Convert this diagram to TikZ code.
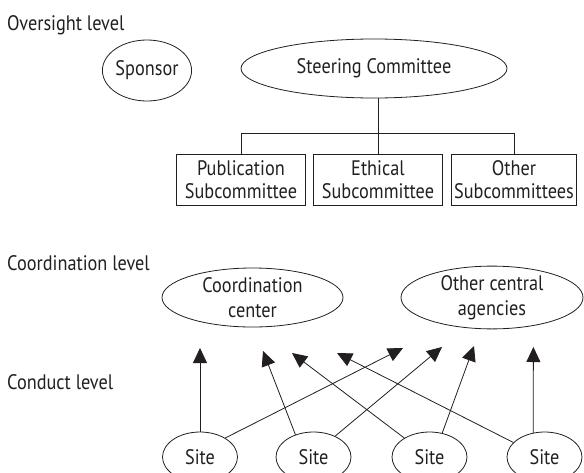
\documentclass[tikz,border=0pt]{standalone}
\usepackage{fontspec}
\setmainfont{PT Sans}[FakeStretch=0.87]
\usetikzlibrary{arrows.meta,shapes.geometric}
\definecolor{ink}{RGB}{35,31,32}
\tikzset{
  lbl/.style={anchor=base west,inner sep=0,text=ink,font=\fontsize{21}{22}\selectfont},
  oval/.style={draw=ink,line width=0.8pt,ellipse,inner sep=0,text=ink,align=center,font=\fontsize{21}{25}\selectfont},
  subbox/.style={draw=ink,line width=0.8pt,rectangle,inner sep=0,text=ink,align=center,minimum height=51pt,font=\fontsize{21}{22.5}\selectfont},
  conn/.style={draw=ink,line width=0.8pt},
  arr/.style={draw=ink,line width=0.8pt,-{Triangle[length=15pt,width=14pt]}},
}
\begin{document}
\begin{tikzpicture}[x=1pt,y=-1pt]
\useasboundingbox (0,0) rectangle (584,472);
% level labels
\node[lbl] (lov) at (7,30) {Oversight level};
\node[lbl] (lco) at (7,270) {Coordination level};
\node[lbl] (lcd) at (7,389) {Conduct level};
% oversight
\node[oval,minimum width=80pt,minimum height=61pt] (spon) at (147,70.5) {Sponsor};
\node[oval,minimum width=266pt,minimum height=59pt] (steer) at (374,68.5) {Steering Committee};
\node[subbox,minimum width=129.7pt] (pub) at (241,179.5) {Publication\\Subcommittee};
\node[subbox,minimum width=129.7pt] (eth) at (378,179.5) {Ethical\\Subcommittee};
\node[subbox,minimum width=124.3pt] (oth) at (514,179.5) {Other\\Subcommittees};
\draw[conn] (eth.north |- steer.south) -- (eth.north);
\draw[conn] (pub.north) -- ++(0,-20) -| (oth.north);
% coordination
\node[oval,minimum width=181pt,minimum height=59pt] (cc) at (252.5,297.5) {Coordination\\center};
\node[oval,minimum width=182pt,minimum height=59pt] (oca) at (492,297.5) {Other central\\agencies};
% sites
\node[oval,minimum width=75pt,minimum height=50pt] (s1) at (200,457) {Site};
\node[oval,minimum width=75pt,minimum height=50pt] (s2) at (313.5,457) {Site};
\node[oval,minimum width=75pt,minimum height=50pt] (s3) at (429.5,457) {Site};
\node[oval,minimum width=75pt,minimum height=50pt] (s4) at (544.5,457) {Site};
% arrow tips
\coordinate (t1) at (200,348);
\coordinate (t2) at (263,351);
\coordinate (t3) at (292,353);
\coordinate (t4) at (337,353);
\coordinate (t5) at (403,348);
\coordinate (t6) at (442,347);
\coordinate (t7) at (474,346);
\coordinate (t8) at (533.4,347);
\draw[arr] (s1.90) -- (t1);
\draw[arr] (s2.129) -- (t2);
\draw[arr] (s3.143) -- (t3);
\draw[arr] (s4.155) -- (t4);
\draw[arr] (s1.37) -- (t5);
\draw[arr] (s2.44) -- (t6);
\draw[arr] (s3.62) -- (t7);
\draw[arr] (s4.115) -- (t8);
\end{tikzpicture}
\end{document}
